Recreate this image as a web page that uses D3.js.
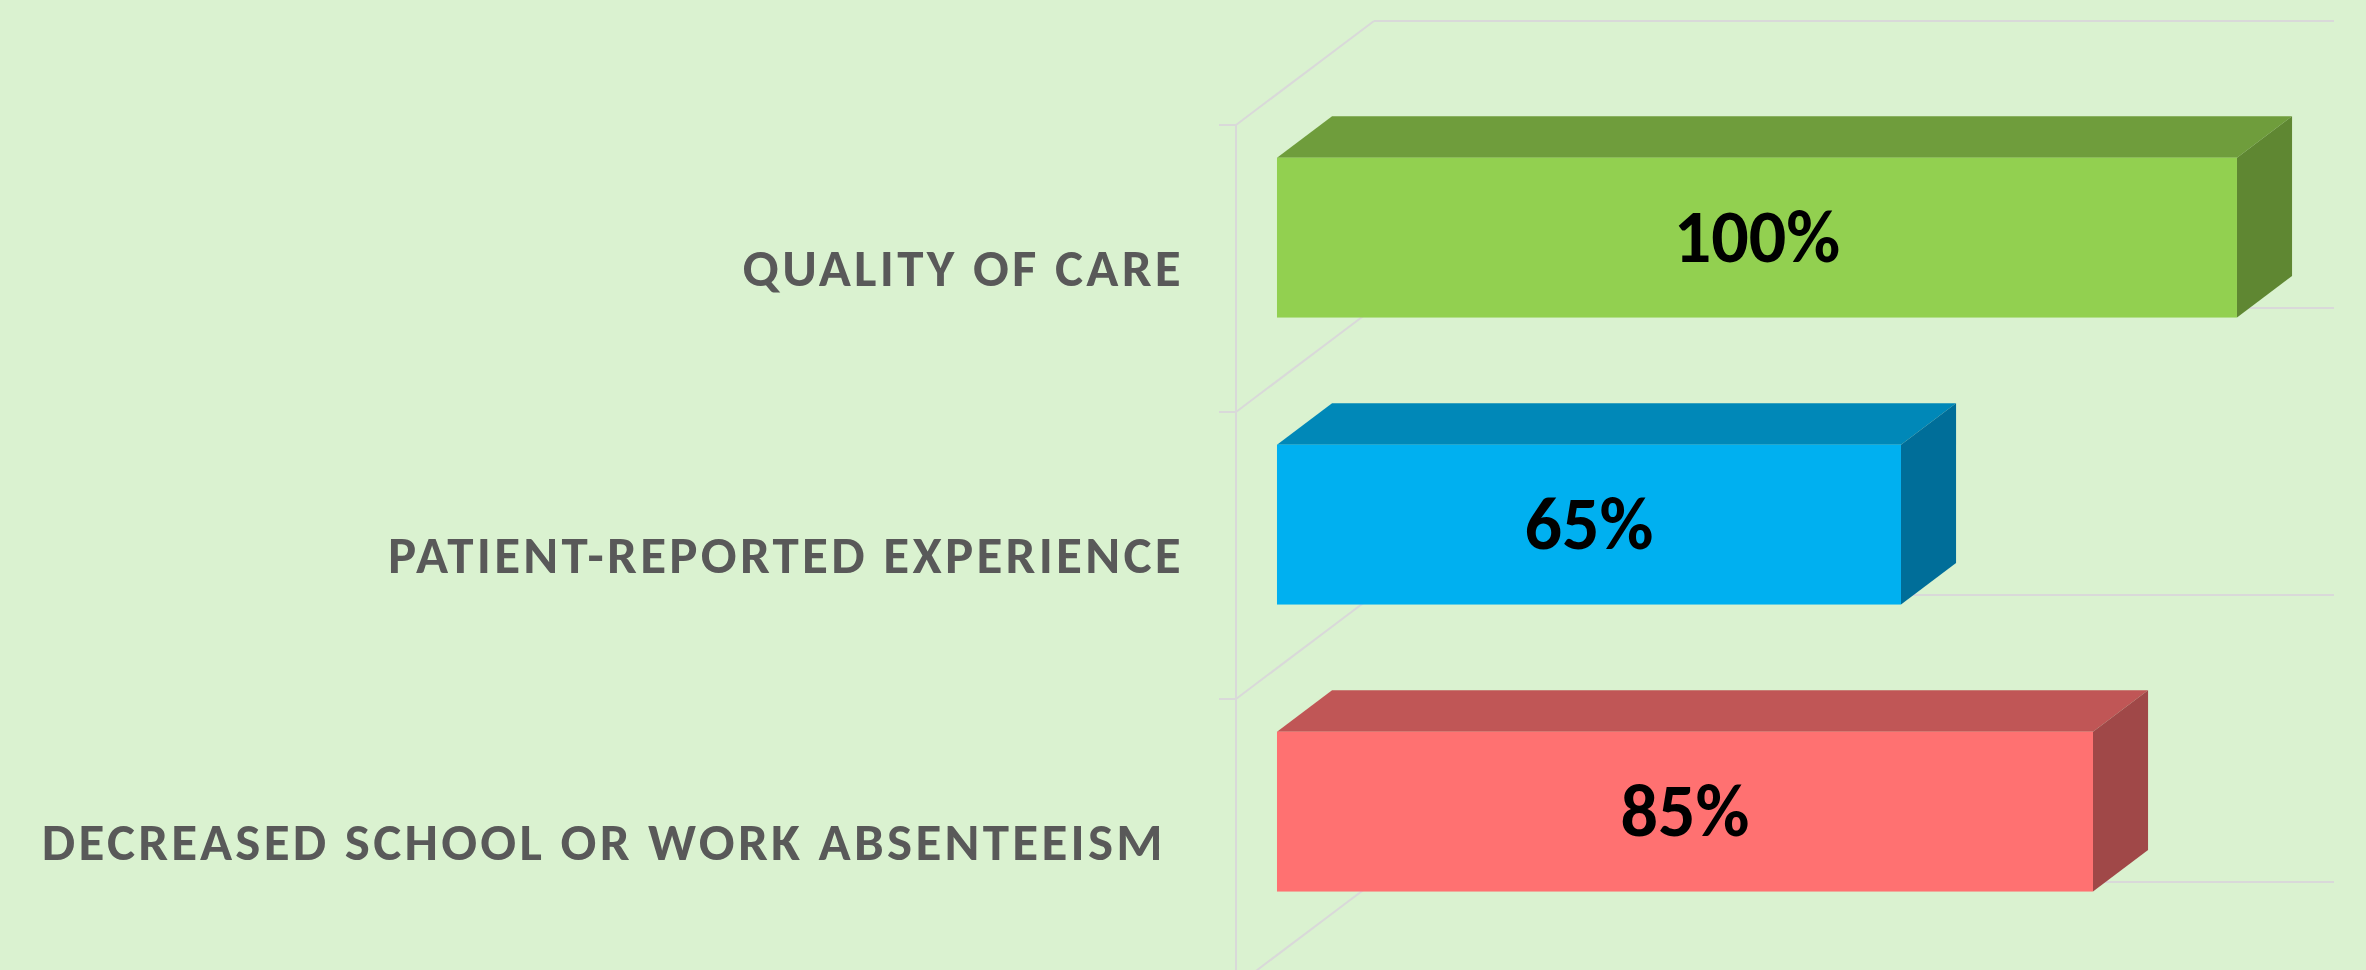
<!DOCTYPE html>
<html>
<head>
<meta charset="utf-8">
<script src="https://cdn.jsdelivr.net/npm/d3@7"></script>
<style>
    html, body { margin: 0; padding: 0; background: #daf2d0; }
    #chart { width: 2366px; height: 970px; }
    .cat-label { font-family: Carlito, Calibri, Lato, sans-serif; font-weight: 700; fill: #595959; }
    .val-label { font-family: Carlito, Calibri, Lato, sans-serif; font-weight: 700; fill: #000; }
</style>
</head>
<body>
<div id="chart"></div>
<script>
// chart data
const categories = ['QUALITY OF CARE', 'PATIENT-REPORTED EXPERIENCE', 'DECREASED SCHOOL OR WORK ABSENTEEISM'];
const values = [100, 65, 85];
const valueLabels = ['100%', '65%', '85%'];
const frontColors = ['#92d050', '#00b0f0', '#ff7171'];
const topColors = ['#6f9d3c', '#0088b8', '#c05656'];
const sideColors = ['#5f8732', '#006e99', '#a04848'];
const axisMax = 100;

class Bar3DVis {

    constructor(parentElement) {
        this.parentElement = parentElement;
        this.initVis();
    }

    initVis() {
        let vis = this;

        vis.width = 2366;
        vis.height = 970;

        // front plane of the plot, and the depth vector to the back wall
        vis.origin = {x: 1236, y: 125};
        vis.depth = {dx: 138, dy: -104};
        vis.barFront = 0.297;
        vis.barBack = 0.696;

        vis.svg = d3.select('#' + vis.parentElement).append('svg')
            .attr('width', vis.width)
            .attr('height', vis.height);

        vis.x = d3.scaleLinear()
            .domain([0, axisMax])
            .range([0, 960]);

        vis.y = d3.scaleBand()
            .domain(categories)
            .range([vis.origin.y, vis.origin.y + 287 * categories.length])
            .paddingInner(0.443)
            .paddingOuter(0.2215);

        vis.wrangleData();
    }

    // project a point (x in value px, y on front plane) to a given depth (0 front, 1 back)
    proj(x, y, d) {
        let vis = this;
        return [vis.origin.x + x + d * vis.depth.dx, y + d * vis.depth.dy];
    }

    wrangleData() {
        let vis = this;
        vis.displayData = categories.map((c, i) => ({
            category: c,
            value: values[i],
            label: valueLabels[i],
            front: frontColors[i],
            top: topColors[i],
            side: sideColors[i]
        }));
        vis.updateVis();
    }

    updateVis() {
        let vis = this;
        let step = vis.y.step();
        let boundaries = d3.range(categories.length + 1).map(i => vis.origin.y + i * step);

        let grid = vis.svg.append('g').attr('class', 'grid');

        // back wall lines
        grid.selectAll('.back-line')
            .data(boundaries)
            .enter()
            .append('line')
            .attr('class', 'back-line')
            .attr('x1', d => vis.proj(0, d, 1)[0])
            .attr('y1', d => vis.proj(0, d, 1)[1])
            .attr('x2', d => vis.proj(vis.x(axisMax), d, 1)[0])
            .attr('y2', d => vis.proj(vis.x(axisMax), d, 1)[1])
            .style('stroke', '#d9d9d9')
            .style('stroke-width', 2);

        // side wall diagonals
        grid.selectAll('.side-line')
            .data(boundaries)
            .enter()
            .append('line')
            .attr('class', 'side-line')
            .attr('x1', d => vis.proj(0, d, 0)[0])
            .attr('y1', d => vis.proj(0, d, 0)[1])
            .attr('x2', d => vis.proj(0, d, 1)[0])
            .attr('y2', d => vis.proj(0, d, 1)[1])
            .style('stroke', '#d9d9d9')
            .style('stroke-width', 2);

        // vertical axis + ticks
        grid.append('line')
            .attr('x1', vis.origin.x).attr('x2', vis.origin.x)
            .attr('y1', vis.origin.y).attr('y2', boundaries[boundaries.length - 1])
            .style('stroke', '#d9d9d9')
            .style('stroke-width', 2);

        grid.selectAll('.tick-line')
            .data(boundaries)
            .enter()
            .append('line')
            .attr('class', 'tick-line')
            .attr('x1', vis.origin.x - 17).attr('x2', vis.origin.x)
            .attr('y1', d => d).attr('y2', d => d)
            .style('stroke', '#d9d9d9')
            .style('stroke-width', 2);

        // bars
        let bars = vis.svg.selectAll('.bar')
            .data(vis.displayData)
            .enter()
            .append('g')
            .attr('class', 'bar');

        let poly = pts => pts.map(p => p.join(',')).join(' ');

        bars.append('polygon')
            .attr('points', d => {
                let y0 = vis.y(d.category), xv = vis.x(d.value);
                return poly([vis.proj(0, y0, vis.barFront), vis.proj(xv, y0, vis.barFront),
                    vis.proj(xv, y0, vis.barBack), vis.proj(0, y0, vis.barBack)]);
            })
            .style('fill', d => d.top);

        bars.append('polygon')
            .attr('points', d => {
                let y0 = vis.y(d.category), y1 = y0 + vis.y.bandwidth(), xv = vis.x(d.value);
                return poly([vis.proj(xv, y0, vis.barFront), vis.proj(xv, y0, vis.barBack),
                    vis.proj(xv, y1, vis.barBack), vis.proj(xv, y1, vis.barFront)]);
            })
            .style('fill', d => d.side);

        bars.append('rect')
            .attr('x', d => vis.proj(0, 0, vis.barFront)[0])
            .attr('y', d => vis.proj(0, vis.y(d.category), vis.barFront)[1])
            .attr('width', d => vis.x(d.value))
            .attr('height', vis.y.bandwidth())
            .style('fill', d => d.front);

        // value labels
        bars.append('text')
            .attr('class', 'val-label')
            .attr('x', d => vis.proj(vis.x(d.value) / 2, 0, vis.barFront)[0])
            .attr('y', d => vis.proj(0, vis.y(d.category) + vis.y.bandwidth() / 2, vis.barFront)[1])
            .attr('dy', '0.33em')
            .attr('text-anchor', 'middle')
            .style('font-size', '74px')
            .text(d => d.label);

        // category labels
        vis.svg.selectAll('.cat-label')
            .data(vis.displayData)
            .enter()
            .append('text')
            .attr('class', 'cat-label')
            .attr('x', (d, i) => i === 2 ? 1166 : 1184)
            .attr('y', d => vis.y(d.category) + vis.y.bandwidth() / 2)
            .attr('dy', '0.33em')
            .attr('text-anchor', 'end')
            .style('font-size', '53px')
            .style('letter-spacing', '3.3px')
            .text(d => d.category);
    }
}

new Bar3DVis('chart');
</script>
</body>
</html>
